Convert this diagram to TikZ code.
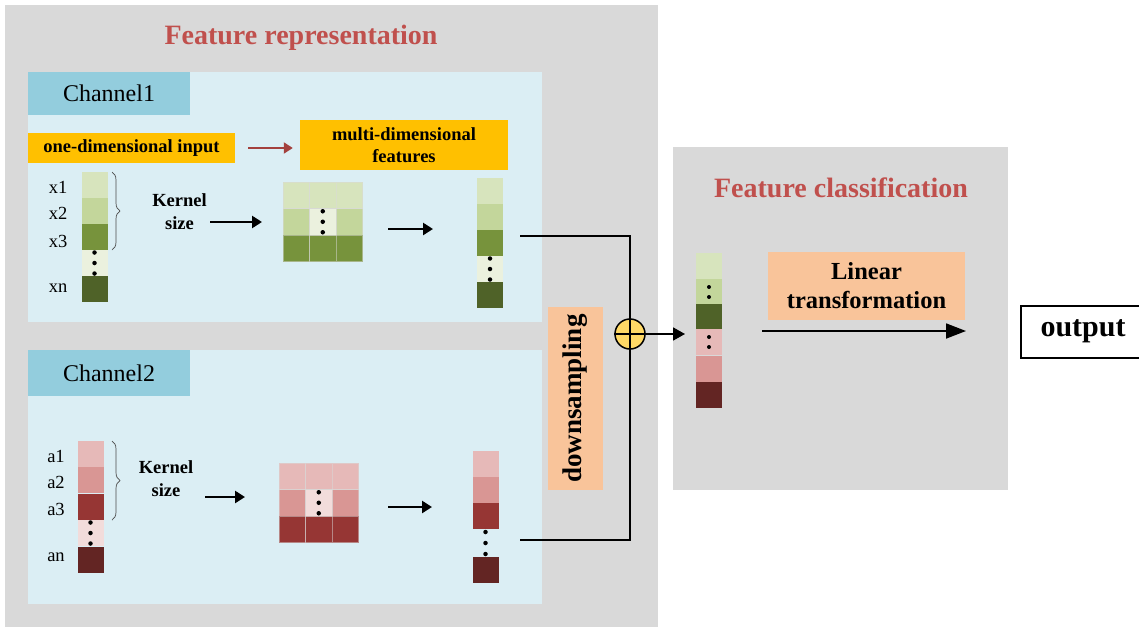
\documentclass[tikz,border=0pt]{standalone}
\usepackage{fontspec}
\setmainfont{Liberation Serif}
\usetikzlibrary{arrows.meta,decorations.pathreplacing,calc}
\definecolor{panelgray}{HTML}{D9D9D9}
\definecolor{chanblue}{HTML}{DBEEF4}
\definecolor{tabblue}{HTML}{93CDDD}
\definecolor{gold}{HTML}{FFC000}
\definecolor{peach}{HTML}{F9C49A}
\definecolor{titlered}{HTML}{C0504D}
\definecolor{redarrow}{HTML}{A3413D}
\definecolor{plusyellow}{HTML}{FFD966}
\definecolor{gA}{HTML}{D7E4BD}
\definecolor{gB}{HTML}{C3D69B}
\definecolor{gC}{HTML}{77933C}
\definecolor{gD}{HTML}{4F6228}
\definecolor{gO}{HTML}{EBF1DE}
\definecolor{rA}{HTML}{E6B9B8}
\definecolor{rB}{HTML}{D99694}
\definecolor{rC}{HTML}{963634}
\definecolor{rD}{HTML}{632523}
\definecolor{rO}{HTML}{F2DCDB}
\tikzset{
  cellbox/.style={minimum width=26pt,minimum height=26pt,inner sep=0pt,outer sep=0pt,draw=none},
  mcell/.style={minimum width=26.5pt,minimum height=26.5pt,inner sep=0pt,outer sep=0pt,draw=white!70!gray,draw opacity=0.5,line width=0.3pt},
  dotmark/.style={circle,fill=black,inner sep=0pt,minimum size=4.5pt},
  arr/.style={line width=2.6pt,-{Triangle[length=10pt,width=12pt]}},
  wire/.style={line width=1.8pt},
  titletext/.style={font=\fontsize{28}{30}\selectfont\bfseries,text=titlered},
  smallbold/.style={font=\fontsize{18.5}{22.5}\selectfont\bfseries,align=center,inner sep=0pt},
  labeltext/.style={font=\fontsize{18.5}{20}\selectfont,inner sep=0pt},
  chantext/.style={font=\fontsize{24}{26}\selectfont},
}
\begin{document}
\begin{tikzpicture}[x=1pt,y=-1pt]
\useasboundingbox (0,0) rectangle (1139,626);
% panels
\fill[panelgray] (5,5) rectangle (658,630);
\fill[panelgray] (673,147) rectangle (1008,490);
\node[titletext] (t1) at (301,38) {Feature representation};
\node[titletext] (t2) at (841,188) {Feature classification};
% channel 1
\fill[chanblue] (28,72) rectangle (542,322);
\node[fill=tabblue,minimum width=162pt,minimum height=43pt,inner sep=0pt,chantext] (tab1) at (109,93.5) {Channel1};
\node[fill=gold,minimum width=207pt,minimum height=30pt,inner sep=0pt,font=\fontsize{18.5}{22}\selectfont\bfseries] (oneD) at (131.5,148) {one-dimensional input};
\node[fill=gold,minimum width=208pt,minimum height=50pt,smallbold] (multiD) at (404,145) {multi-dimensional\\features};
\draw[line width=2pt,redarrow,-{Triangle[length=9pt,width=11pt]},shorten <=13pt,shorten >=7pt] (oneD.east) -- (multiD.west|-oneD.east);
% channel 1 input column
\foreach \c/\y/\n in {gA/185/1,gB/211/2,gC/237/3,gO/263/4,gD/289/5}
  \node[cellbox,fill=\c] (in1\n) at (94.5,\y) {};
\foreach \d in {-10.5,0,10.5} \node[dotmark] at ($(in14)+(0,\d)$) {};
\node[labeltext] (lx1) at (58,187) {x1};
\node[labeltext] (lx2) at (58,213) {x2};
\node[labeltext] (lx3) at (58,241) {x3};
\node[labeltext] (lxn) at (58,288) {xn};
\draw[decorate,decoration={brace,amplitude=8pt},gray!60!black,line width=0.7pt] (112,172) -- (112,250);
\node[smallbold] (ks1) at (179.5,211.5) {Kernel\\size};
% channel 1 matrix
\foreach \c/\r in {gA/0,gB/1,gC/2}
  \foreach \k in {0,1,2}
    \node[mcell,fill=\c] (m1\r\k) at (296.25+26.5*\k,195.25+26.5*\r) {};
\node[mcell,fill=gO] (m1mid) at (m111) {};
\foreach \d in {-10.5,0,10.5} \node[dotmark] at ($(m1mid)+(0,\d)$) {};
% channel 1 output column
\foreach \c/\y/\n in {gA/191/1,gB/217/2,gC/243/3,gO/269/4,gD/295/5}
  \node[cellbox,fill=\c] (o1\n) at (490,\y) {};
\foreach \d in {-10.5,0,10.5} \node[dotmark] at ($(o14)+(0,\d)$) {};
\coordinate (a1s) at (210,222); \coordinate (a1e) at (262,222);
\draw[arr] (a1s) -- (a1e);
\coordinate (b1s) at (388,229); \coordinate (b1e) at (433,229);
\draw[arr] (b1s) -- (b1e);
% channel 2
\fill[chanblue] (28,350) rectangle (542,604);
\node[fill=tabblue,minimum width=162pt,minimum height=46pt,inner sep=0pt,chantext] (tab2) at (109,373) {Channel2};
\foreach \c/\y/\n in {rA/454/1,rB/480/2,rC/506.5/3,rO/533/4,rD/559.5/5}
  \node[cellbox,fill=\c] (in2\n) at (90.5,\y) {};
\foreach \d in {-10.5,0,10.5} \node[dotmark] at ($(in24)+(0,\d)$) {};
\node[labeltext] (la1) at (56,456) {a1};
\node[labeltext] (la2) at (56,482) {a2};
\node[labeltext] (la3) at (56,509) {a3};
\node[labeltext] (lan) at (56,557) {an};
\draw[decorate,decoration={brace,amplitude=8pt},gray!60!black,line width=0.7pt] (112,441) -- (112,520);
\node[smallbold] (ks2) at (166,478.5) {Kernel\\size};
\foreach \c/\r in {rA/0,rB/1,rC/2}
  \foreach \k in {0,1,2}
    \node[mcell,fill=\c] (m2\r\k) at (292.25+26.5*\k,476.25+26.5*\r) {};
\node[mcell,fill=rO] (m2mid) at (m211) {};
\foreach \d in {-10.5,0,10.5} \node[dotmark] at ($(m2mid)+(0,\d)$) {};
\foreach \c/\y/\n in {rA/464/1,rB/490/2,rC/516/3}
  \node[cellbox,fill=\c] (o2\n) at (485.5,\y) {};
\node[cellbox,fill=rD] (o25) at (485.5,570) {};
\coordinate (o24) at (485.5,543);
\foreach \d in {-11,0,11} \node[dotmark] at ($(o24)+(0,\d)$) {};
\coordinate (a2s) at (205,497); \coordinate (a2e) at (245,497);
\draw[arr] (a2s) -- (a2e);
\coordinate (b2s) at (388,507); \coordinate (b2e) at (432,507);
\draw[arr] (b2s) -- (b2e);
% downsampling
\node[fill=peach,minimum width=55pt,minimum height=183pt,inner sep=0pt] (down) at (575.5,398.5) {};
\node[rotate=90,font=\fontsize{27}{28}\selectfont\bfseries] (downt) at (down.center) {downsampling};
% merge
\coordinate (w1) at (520,236);
\coordinate (w2) at (520,540);
\node[circle,draw=black,fill=plusyellow,line width=1.5pt,minimum size=30pt,inner sep=0pt] (plus) at (630,334) {};
\draw[wire] (w1) -- (w1-|plus) -- (w2-|plus) -- (w2);
\draw[line width=1.5pt] (plus.west) -- (plus.east);
% classification column
\foreach \c/\y/\n in {gA/266/1,gB/292/2,gD/317/3,rA/342/4,rB/368.5/5,rD/395/6}
  \node[cellbox,fill=\c] (cc\n) at (709,\y) {};
\foreach \d in {-5,5} \node[dotmark,minimum size=4pt] at ($(cc2)+(0,\d)$) {};
\foreach \d in {-5,5} \node[dotmark,minimum size=4pt] at ($(cc4)+(0,\d)$) {};
\draw[line width=1.8pt,-{Triangle[length=12pt,width=13pt]}] (plus.east) -- (685,334) coordinate (ce);
% linear transformation
\node[fill=peach,minimum width=197pt,minimum height=68pt,inner sep=0pt,align=center,font=\fontsize{24.5}{29}\selectfont\bfseries] (lin) at (866.5,286) {Linear\\transformation};
\coordinate (ls) at (762,331);
\coordinate (le) at (966,331);
\draw[line width=1.8pt,-{Triangle[length=20pt,width=15pt]}] (ls) -- (le);
% output
\draw[line width=1.6pt] (1021,306) rectangle (1150,358);
\node[font=\fontsize{30}{32}\selectfont\bfseries] (out) at (1083,331) {output};
\end{tikzpicture}
\end{document}
